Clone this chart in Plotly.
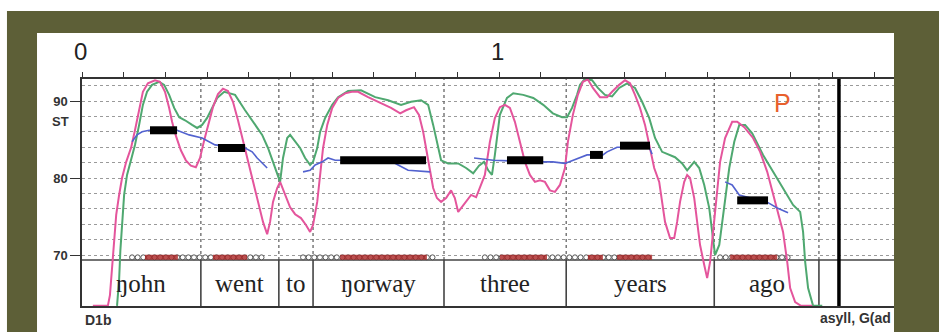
import numpy as np
import plotly.graph_objects as go

# ---------------- data (time in s, pitch in semitones) ----------------
pink_t = [0.026,0.062,0.067,0.072,0.077,0.082,0.089,0.096,0.106,0.118,
          0.127,0.137,0.146,0.158,0.175,0.187,0.199,0.209,0.216,0.225,
          0.237,0.249,0.261,0.273,0.283,0.293,0.302,0.314,0.326,0.338,
          0.350,0.362,0.374,0.386,0.398,0.410,0.422,0.434,0.444,0.451,
          0.458,0.468,0.475,0.487,0.499,0.511,0.525,0.537,0.547,0.554,
          0.564,0.571,0.578,0.588,0.600,0.614,0.631,0.647,0.662,0.686,
          0.717,0.741,0.763,0.777,0.796,0.808,0.818,0.827,0.835,0.842,
          0.851,0.861,0.873,0.885,0.894,0.902,0.909,0.921,0.933,0.945,
          0.957,0.966,0.978,0.990,1.002,1.014,1.026,1.038,1.050,1.062,
          1.074,1.086,1.098,1.110,1.122,1.134,1.146,1.158,1.165,1.177,
          1.189,1.201,1.213,1.225,1.242,1.259,1.271,1.288,1.302,1.314,
          1.326,1.338,1.350,1.362,1.372,1.384,1.391,1.398,1.410,1.420,
          1.427,1.434,1.444,1.451,1.458,1.468,1.475,1.482,1.492,1.499,
          1.506,1.516,1.523,1.530,1.542,1.559,1.571,1.588,1.609,1.626,
          1.643,1.657,1.669,1.681,1.691,1.698,1.710,1.724,1.751]
pink_st = [63.4,63.4,64.8,68.1,72.0,75.2,77.8,80.0,82.1,84.0,
           86.2,88.8,91.2,92.3,92.7,92.5,91.2,89.1,87.3,85.5,
           83.6,82.3,81.6,81.4,82.6,84.9,86.9,89.2,90.9,91.6,
           91.3,89.9,87.5,84.9,82.3,79.7,77.1,74.3,72.7,74.3,
           76.9,78.7,79.5,77.8,76.2,75.3,74.8,73.9,73.0,73.9,
           76.9,80.4,83.9,86.9,89.1,90.4,91.0,91.2,91.2,90.5,
           89.7,89.1,88.4,88.8,89.2,88.2,86.0,83.4,80.8,78.7,
           77.4,76.9,77.4,78.4,77.4,75.6,76.1,76.9,77.8,77.5,
           79.1,80.4,84.7,87.8,89.2,89.5,89.1,87.3,84.7,82.1,
           80.4,79.5,79.7,79.5,78.4,78.2,79.1,81.3,84.7,88.2,
           90.8,92.5,92.8,91.7,90.5,90.5,91.2,92.1,92.7,92.3,
           90.8,89.1,86.9,83.9,81.3,79.5,76.9,74.3,72.2,72.2,
           74.3,76.9,79.5,80.4,80.0,77.4,74.3,71.3,68.7,67.0,
           69.1,74.3,78.7,82.1,85.2,87.3,87.3,86.6,85.2,83.4,
           80.8,77.8,75.6,73.0,69.1,65.7,63.9,63.4,63.4]

green_t = [0.084,0.089,0.092,0.096,0.101,0.108,0.118,0.127,0.137,0.146,
           0.156,0.168,0.185,0.197,0.209,0.221,0.233,0.247,0.264,0.276,
           0.288,0.300,0.312,0.324,0.341,0.355,0.367,0.391,0.415,0.432,
           0.446,0.458,0.468,0.475,0.482,0.492,0.499,0.511,0.523,0.535,
           0.547,0.554,0.564,0.571,0.583,0.600,0.614,0.638,0.669,0.703,
           0.734,0.765,0.789,0.813,0.830,0.842,0.854,0.861,0.878,0.902,
           0.921,0.938,0.952,0.964,0.974,0.983,0.990,1.002,1.019,1.034,
           1.058,1.082,1.106,1.129,1.151,1.163,1.175,1.187,1.194,1.206,
           1.223,1.237,1.254,1.271,1.288,1.307,1.326,1.343,1.360,1.374,
           1.391,1.408,1.422,1.439,1.451,1.468,1.480,1.492,1.504,1.511,
           1.518,1.528,1.540,1.552,1.564,1.576,1.590,1.607,1.633,1.657,
           1.681,1.705,1.722,1.729,1.734,1.741,1.753,1.775]
green_st = [63.4,66.8,70.6,74.5,77.8,80.4,82.3,84.3,86.9,89.5,
            91.2,92.1,92.5,92.1,90.8,89.1,87.9,87.5,86.9,86.5,
            86.9,87.8,89.1,90.4,91.2,91.0,90.8,88.8,86.9,85.6,
            83.9,82.1,80.8,79.5,82.6,85.2,85.6,84.7,83.9,82.6,
            81.7,82.1,83.9,86.0,87.8,89.5,90.5,91.3,91.4,90.5,
            90.1,89.5,89.9,90.1,89.5,86.9,83.9,82.3,81.9,81.9,
            81.3,80.6,81.6,82.1,81.0,80.4,83.0,88.2,90.4,91.0,
            90.8,90.4,89.5,88.4,87.9,87.9,89.1,90.8,92.1,92.9,
            92.7,91.7,90.8,90.6,91.7,92.3,91.7,89.9,87.8,85.2,
            83.4,83.0,82.7,81.9,81.0,82.1,81.3,79.1,76.1,73.0,
            70.0,71.3,76.1,81.3,84.7,86.9,86.9,85.8,83.0,80.8,
            78.7,76.5,75.6,73.0,69.1,65.7,63.4,63.4]

blue_t = [[0.120,0.132,0.144,0.161,0.228,0.257,0.288,0.319,0.391,0.408,0.420,0.432,0.444],
          [0.530,0.547,0.559,0.576,0.590,0.607,0.619,0.741,0.758,0.782,0.835],
          [0.940,0.986,1.106,1.129,1.158,1.177,1.211,1.249,1.259,1.283,1.360,1.367],
          [1.542,1.559,1.576,1.645,1.667,1.693]]
blue_st = [[84.7,85.6,86.0,86.2,86.2,85.6,85.2,84.3,83.9,83.4,82.6,82.0,81.3],
           [80.8,81.0,81.7,82.1,82.6,82.3,82.3,82.2,81.7,81.0,80.8],
           [82.6,82.3,82.1,82.1,81.9,82.3,83.0,83.0,83.4,84.0,84.0,83.1],
           [79.5,79.1,77.8,76.8,76.1,75.5]]

styl_t0 = [0.163, 0.326, 0.619, 1.019, 1.218, 1.290, 1.571]
styl_t1 = [0.228, 0.391, 0.825, 1.106, 1.249, 1.362, 1.645]
styl_st = [86.2, 83.9, 82.3, 82.3, 83.0, 84.2, 77.1]

words = ["ŋohn", "went", "to", "ŋorway", "three", "years", "ago"]
word_bounds = [0.0, 0.285, 0.472, 0.554, 0.868, 1.161, 1.516, 1.767]
end_mark = 1.815

chain_t0 = [0.120, 0.530, 0.966, 1.530]
chain_t1 = [0.441, 0.842, 1.367, 1.693]
red_t0 = [0.151, 0.314, 0.619, 1.002, 1.213, 1.283, 1.554]
red_t1 = [0.230, 0.396, 0.827, 1.115, 1.249, 1.367, 1.667]
chain_level = 69.7

y_ticks = [70, 80, 90]
y_minor = [72, 74, 76, 78, 82, 84, 86, 88, 92]
x_ticks = [0.0, 0.1, 0.2, 0.3, 0.4, 0.5, 0.6, 0.7, 0.8, 0.9,
           1.0, 1.1, 1.2, 1.3, 1.4, 1.5, 1.6, 1.7, 1.8, 1.9]
x_labels = ["0", "1"]

X_MAX = 1.947
Y_MIN, Y_MAX = 63.38, 92.86
TIER_TOP = 69.35

PINK = "#e4559c"
GREEN = "#4fa870"
BLUE = "#5262cf"
OLIVE = "#5d5f37"

fig = go.Figure()

# word boundaries: dotted in pitch area, solid in tier
bx, by_dot, by_sol = [], [], []
for b in word_bounds[1:]:
    bx += [b, b, None]
    by_dot += [TIER_TOP, Y_MAX, None]
    by_sol += [Y_MIN, TIER_TOP, None]
fig.add_trace(go.Scatter(x=bx, y=by_dot, mode="lines",
                         line=dict(color="#666666", width=1.3, dash="dot")))
fig.add_trace(go.Scatter(x=bx, y=by_sol, mode="lines",
                         line=dict(color="#444444", width=1.6)))
# tier top line
fig.add_trace(go.Scatter(x=[0, X_MAX], y=[TIER_TOP, TIER_TOP], mode="lines",
                         line=dict(color="#444444", width=1.6)))
# end mark
fig.add_trace(go.Scatter(x=[end_mark, end_mark], y=[Y_MIN, Y_MAX], mode="lines",
                         line=dict(color="#000000", width=3.5)))

# syllable chain
for t0, t1 in zip(chain_t0, chain_t1):
    texture = np.arange(t0, t1 + 1e-9, 0.0135)
    fig.add_trace(go.Scatter(x=texture, y=[chain_level] * len(texture), mode="markers",
                             marker=dict(symbol="circle", size=5, color="white",
                                         line=dict(color="#555555", width=1))))
for t0, t1 in zip(red_t0, red_t1):
    fig.add_trace(go.Scatter(x=[t0, t1], y=[chain_level, chain_level], mode="lines",
                             line=dict(color="rgba(170,35,35,0.8)", width=5)))

# pitch curves
fig.add_trace(go.Scatter(x=green_t, y=green_st, mode="lines",
                         line=dict(color=GREEN, width=2)))
fig.add_trace(go.Scatter(x=pink_t, y=pink_st, mode="lines",
                         line=dict(color=PINK, width=2)))

bxx, byy = [], []
for ts, ss in zip(blue_t, blue_st):
    bxx += ts + [None]
    byy += ss + [None]
fig.add_trace(go.Scatter(x=bxx, y=byy, mode="lines",
                         line=dict(color=BLUE, width=1.6)))

sx, sy = [], []
for t0, t1, s in zip(styl_t0, styl_t1, styl_st):
    sx += [t0, t1, None]
    sy += [s, s, None]
fig.add_trace(go.Scatter(x=sx, y=sy, mode="lines",
                         line=dict(color="#000000", width=8)))

annotations = []
mids = [(a + b) / 2 for a, b in zip(word_bounds[:-1], word_bounds[1:])]
for w, m in zip(words, mids):
    annotations.append(dict(x=m, y=(Y_MIN + TIER_TOP) / 2, xref="x", yref="y",
                            text=w, showarrow=False, xanchor="center", yanchor="middle",
                            font=dict(family="Liberation Serif", size=25, color="#222222")))
for lab, xv in zip(x_labels, [0.0, 1.0]):
    annotations.append(dict(x=xv, y=1.119, xref="x", yref="paper", text=lab,
                            showarrow=False, xshift=-2, xanchor="center", yanchor="middle",
                            font=dict(family="Liberation Sans", size=24, color="#222222")))
annotations += [
    dict(x=-0.0265, y=87.4, xref="paper", yref="y", text="ST", showarrow=False,
         xanchor="center", yanchor="middle",
         font=dict(family="Liberation Sans", size=13, color="#333333", weight="bold")),
    dict(x=1.679, y=89.8, xref="x", yref="y", text="P", showarrow=False,
         xanchor="center", yanchor="middle",
         font=dict(family="Liberation Sans", size=25, color="#e8602c")),
    dict(x=0.001, y=-0.0617, xref="paper", yref="paper", text="D1b", showarrow=False,
         xanchor="left", yanchor="middle",
         font=dict(family="Liberation Sans", size=14, color="#333333", weight="bold")),
    dict(x=0.999, y=-0.053, xref="paper", yref="paper", text="asyll, G(ad", showarrow=False,
         xanchor="right", yanchor="middle",
         font=dict(family="Liberation Sans", size=14, color="#333333", weight="bold")),
]

shapes = [
    dict(type="rect", xref="paper", yref="paper", x0=-0.0924, x1=1.06, y0=-0.2, y1=1.2996,
         fillcolor=OLIVE, line=dict(width=0), layer="below"),
    dict(type="rect", xref="paper", yref="paper", x0=-0.0554, x1=1.0, y0=-0.2, y1=1.2026,
         fillcolor="white", line=dict(width=0), layer="below"),
]

fig.update_layout(
    width=939, height=332,
    margin=dict(l=82, r=45, t=79, b=26),
    paper_bgcolor="white", plot_bgcolor="white",
    showlegend=False,
    annotations=annotations, shapes=shapes,
    xaxis=dict(range=[0, X_MAX], side="top", showline=True, linecolor="#333333", linewidth=1.5,
               mirror=True, ticks="outside", ticklen=5, tickcolor="#333333",
               tickvals=x_ticks, showticklabels=False, showgrid=False, zeroline=False,
               fixedrange=True),
    yaxis=dict(range=[Y_MIN, Y_MAX], showline=True, linecolor="#333333", linewidth=1.5,
               ticks="outside", ticklen=10, tickcolor="#333333", tickwidth=1.2,
               tickvals=y_ticks, ticktext=[str(v) for v in y_ticks],
               tickfont=dict(family="Liberation Sans", size=13, color="#333333", weight="bold"),
               showgrid=True, gridcolor="#9a9a9a", griddash="dot", gridwidth=1,
               minor=dict(tickvals=y_minor, showgrid=True, gridcolor="#9a9a9a",
                          griddash="dot", gridwidth=1, ticks=""),
               zeroline=False, fixedrange=True),
)

fig.write_html("out.html")
